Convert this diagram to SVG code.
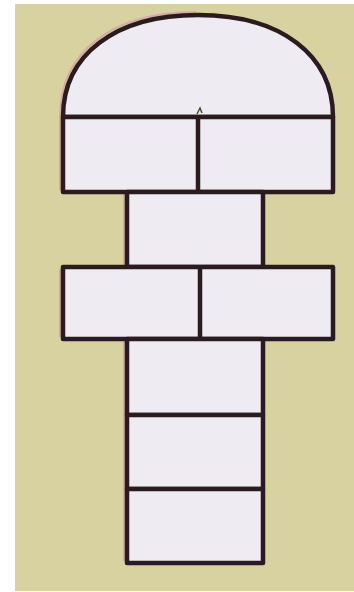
<svg xmlns="http://www.w3.org/2000/svg" width="354" height="592" viewBox="0 0 354 592">
<defs>
<style>
.cell{fill:#eeebf3;stroke:#2a1c1e;stroke-width:4.5;stroke-linejoin:round}
.shadow{fill:none;stroke:#d7a9ae;stroke-width:2}
.div{stroke:#2a1c1e;stroke-width:4.5}
</style>
</defs>
<rect x="0" y="0" width="354" height="592" fill="#ffffff"/>
<rect x="15" y="4" width="339" height="587" fill="#d7d2a0"/>
<g id="shadows">
<path class="shadow" d="M60,190 L60,117 C60,52 112,12 196,12"/>
<path class="shadow" d="M60,337 L60,269"/>
<path class="shadow" d="M124,265 L124,194 M124,561 L124,341"/>
</g>
<g id="dome"><path class="cell" d="M63,117 C63,55 115,15 198,15 C281,15 333,55 333,117 Z"/></g>
<g id="row2">
<rect class="cell" x="63" y="117" width="270" height="75"/>
<line class="div" x1="198" y1="117" x2="198" y2="192"/>
<path d="M197,114 l3,-6 l2,5" fill="none" stroke="#4a4a3a" stroke-width="1.5"/>
</g>
<g id="box3"><rect class="cell" x="127" y="192" width="136" height="75"/></g>
<g id="row4">
<rect class="cell" x="63" y="267" width="270" height="72"/>
<line class="div" x1="200" y1="267" x2="200" y2="339"/>
</g>
<g id="box5"><rect class="cell" x="127" y="339" width="136" height="76"/></g>
<g id="box6"><rect class="cell" x="127" y="415" width="136" height="74"/></g>
<g id="box7"><rect class="cell" x="127" y="489" width="136" height="74"/></g>
</svg>
